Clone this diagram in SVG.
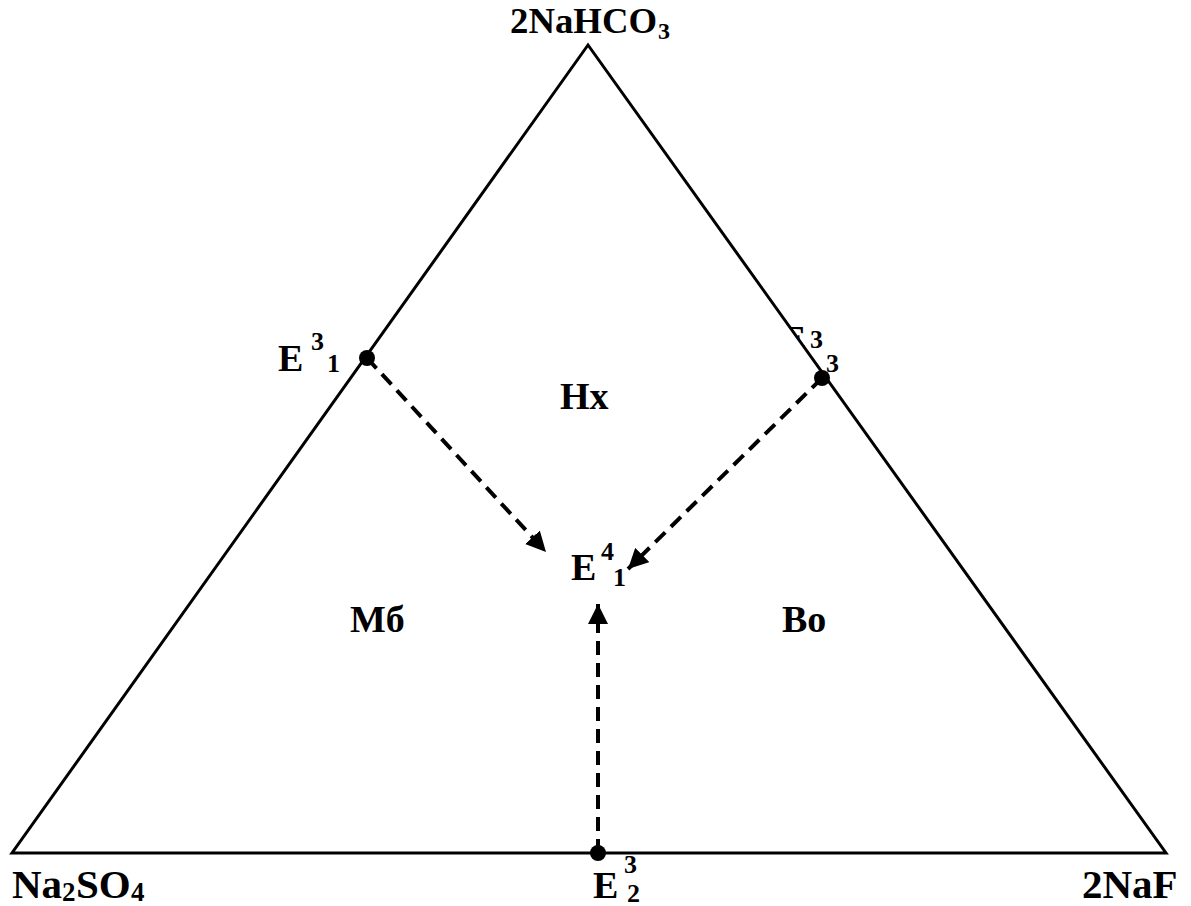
<svg xmlns="http://www.w3.org/2000/svg" width="1191" height="906" viewBox="0 0 1191 906">
<style>
text{font-family:"Liberation Serif","Times New Roman",serif;font-weight:bold;fill:#000}
.lbl{font-size:38px}
.big{font-size:41px}
.sup{font-size:26px}
.edge{fill:none;stroke:#000;stroke-width:3}
.dash{fill:none;stroke:#000;stroke-width:4;stroke-dasharray:14 8}
</style>
<defs>
<marker id="ah" viewBox="0 0 10 10" refX="10" refY="5" markerWidth="5" markerHeight="5" orient="auto" markerUnits="strokeWidth">
<path d="M0,0 L10,5 L0,10 z" fill="#000"/>
</marker>
<clipPath id="rclip"><polygon points="588,45 1191,45 1191,853 1166,853"/></clipPath>
</defs>
<rect width="1191" height="906" fill="#fff"/>
<g id="triangle">
<polygon class="edge" points="588,45 12,853 1166,853"/>
</g>
<g id="connectors">
<line class="dash" x1="367" y1="358" x2="546" y2="552" marker-end="url(#ah)"/>
<line class="dash" x1="822" y1="378" x2="628" y2="569" marker-end="url(#ah)"/>
<line class="dash" x1="598" y1="853" x2="598" y2="604" marker-end="url(#ah)"/>
</g>
<g id="top-vertex"><text x="510" y="33" class="lbl" style="font-size:36px" textLength="147" lengthAdjust="spacingAndGlyphs">2NaHCO</text><text x="658" y="39" style="font-size:24px">3</text></g>
<g id="left-vertex"><text x="12" y="898" class="big">Na</text><text x="62" y="901" style="font-size:27px">2</text><text x="76" y="898" class="big">SO</text><text x="131" y="901" style="font-size:27px">4</text></g>
<g id="right-vertex"><text x="1082" y="898" class="big">2NaF</text></g>
<g id="E31"><circle cx="367" cy="358" r="8"/><text x="278" y="371" class="lbl">E</text><text x="311" y="350" class="sup">3</text><text x="327" y="372" class="sup">1</text></g>
<g id="E33"><circle cx="822" cy="378" r="8"/><g clip-path="url(#rclip)"><text x="781" y="352" class="lbl">E</text></g><text x="810" y="348" class="sup">3</text><text x="826" y="372" class="sup">3</text></g>
<g id="E32"><circle cx="598" cy="853" r="8"/><text x="593" y="898" class="lbl">E</text><text x="624" y="873" class="sup">3</text><text x="627" y="902" class="sup">2</text></g>
<g id="E41"><text x="571" y="580" class="lbl">E</text><text x="601" y="560" class="sup">4</text><text x="613" y="586" class="sup">1</text></g>
<g id="Hx"><text x="560" y="409" class="lbl">Hx</text></g>
<g id="Mb"><text x="350" y="632" class="lbl">Мб</text></g>
<g id="Bo"><text x="782" y="632" class="lbl">Bo</text></g>
</svg>
